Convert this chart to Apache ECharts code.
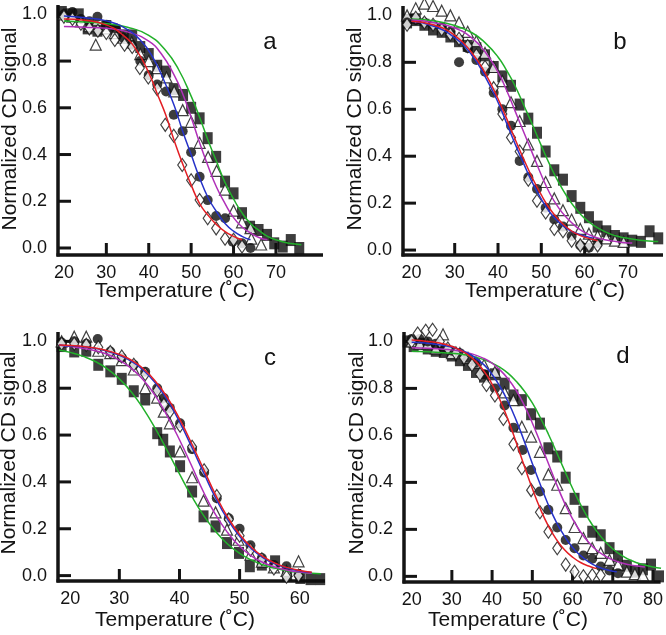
<!DOCTYPE html>
<html>
<head>
<meta charset="utf-8">
<script src="https://cdn.jsdelivr.net/npm/echarts@6/dist/echarts.min.js"></script>
<style>
  html, body { margin: 0; padding: 0; background: #fff; }
  #chart { width: 666px; height: 635px; }
</style>
</head>
<body>
<div id="chart"></div>
<script type="text/javascript">
// panel a
var aSquares = [[19.5,1.01],[21.5,1.0],[23.5,1.0],[25.6,0.94],[27.9,0.93],[30,0.95],[32.2,0.93],[34.1,0.91],[36.1,0.91],[38,0.86],[40,0.83],[42,0.78],[44.1,0.755],[45.9,0.68],[48.1,0.655],[50,0.6],[52,0.555],[53.9,0.47],[55.9,0.39],[58,0.284],[60,0.234],[62,0.149],[63.9,0.091],[65.9,0.077],[67.9,0.056],[69.6,0.02],[71.6,0.006],[73.5,0.034],[75.5,0.0]];
var aTriangles = [[20,1.0],[22,0.99],[24,0.97],[26,0.95],[27.5,0.87],[30,0.94],[32,0.92],[34,0.9],[36,0.88],[38,0.83],[40,0.8],[42,0.77],[44.2,0.73],[46,0.67],[48,0.59],[50,0.54],[52,0.45],[54,0.39],[56,0.33],[58,0.25],[60,0.16],[62,0.11],[64,0.085],[64.2,0.04],[66.5,0.015]];
var aCircles = [[20,1.0],[22,1.01],[24,0.98],[26,0.97],[27.9,0.99],[30,0.955],[32.2,0.94],[34,0.9],[36,0.87],[38,0.8],[40,0.74],[42,0.7],[44.1,0.67],[45.9,0.57],[48,0.5],[50,0.41],[52,0.305],[53.9,0.205],[55.9,0.137],[58,0.127],[59.8,0.027],[62,0.02],[64,0.0]];
var aDiamonds = [[20,0.99],[22,0.98],[24,0.96],[26,0.94],[28,0.93],[30,0.92],[32,0.89],[34.3,0.87],[36.1,0.86],[37.9,0.77],[39.9,0.73],[42,0.68],[43.9,0.527],[45.9,0.48],[47.9,0.355],[50,0.29],[52,0.205],[53.9,0.127],[55.9,0.084],[58,0.04],[60,0.035],[62,0.006]];
var aRed = [[20,0.98],[25,0.975],[30,0.955],[34,0.91],[37,0.85],[40,0.75],[42,0.66],[44,0.57],[46,0.46],[48,0.36],[50,0.27],[52,0.19],[54,0.14],[56,0.1],[58,0.07],[60,0.05],[62,0.035]];
var aBlue = [[20,0.993],[25,0.985],[30,0.972],[34,0.945],[38,0.89],[41,0.815],[44,0.7],[46,0.61],[48,0.5],[50,0.4],[52,0.3],[54,0.215],[56,0.155],[58,0.105],[60,0.072],[62,0.05],[64,0.035]];
var aMagenta = [[20,0.948],[25,0.945],[30,0.94],[35,0.925],[40,0.885],[43,0.83],[46,0.74],[48,0.66],[50,0.56],[52,0.45],[54,0.35],[56,0.26],[58,0.19],[60,0.13],[62,0.09],[64,0.065],[66,0.045],[68,0.035]];
var aGreen = [[20,0.972],[25,0.967],[30,0.96],[35,0.945],[40,0.91],[44,0.845],[47,0.765],[50,0.65],[52,0.56],[54,0.46],[56,0.37],[58,0.28],[60,0.21],[62,0.15],[64,0.105],[66,0.075],[68,0.05],[70,0.035],[72,0.025],[74,0.018],[76,0.014]];

// panel b
var bSquares = [[19,0.97],[21,0.98],[23,0.96],[25,0.94],[27,0.93],[29,0.91],[31,0.89],[33,0.87],[35,0.86],[37,0.83],[39,0.78],[41,0.74],[43,0.7],[45,0.62],[47,0.56],[49,0.5],[51,0.42],[53,0.34],[55,0.3],[57,0.23],[59,0.18],[61,0.14],[63,0.1],[65,0.08],[67,0.06],[69,0.05],[71,0.04],[73,0.035],[75,0.08],[77,0.05]];
var bTriangles = [[19,1.0],[21,1.03],[23,1.05],[25,1.04],[27,1.02],[29,1.0],[31,0.97],[33,0.93],[35,0.89],[37,0.84],[39,0.78],[41,0.72],[43,0.63],[45,0.55],[47,0.45],[49,0.38],[51,0.29],[53,0.22],[55,0.17],[57,0.13],[59,0.09],[61,0.07],[63,0.06],[65,0.05],[67,0.04],[69,0.035]];
var bCircles = [[19,0.97],[21,0.98],[23,0.97],[25,0.96],[27,0.95],[29,0.93],[31,0.8],[33,0.86],[35,0.81],[37,0.76],[39,0.67],[41,0.6],[43,0.53],[45,0.38],[47,0.31],[49,0.26],[51,0.18],[53,0.13],[55,0.1],[57,0.06],[59,0.02],[61,0.01],[63,0.03]];
var bDiamonds = [[19,0.96],[21,0.99],[23,0.97],[25,0.96],[27,0.94],[29,0.92],[31,0.9],[33,0.87],[35,0.83],[37,0.78],[39,0.69],[41,0.58],[43,0.48],[45,0.42],[47,0.3],[49,0.21],[51,0.16],[53,0.09],[55,0.08],[57,0.04],[59,0.02],[61,0.02],[63,0.02]];
var bRed = [[20,0.975],[25,0.96],[30,0.915],[34,0.84],[37,0.755],[40,0.645],[42,0.56],[44,0.47],[46,0.385],[48,0.305],[50,0.235],[52,0.175],[54,0.13],[56,0.095],[58,0.07],[60,0.055],[62,0.045],[63,0.04]];
var bBlue = [[20,0.975],[25,0.955],[30,0.905],[34,0.83],[37,0.74],[40,0.63],[42,0.54],[44,0.45],[46,0.365],[48,0.285],[50,0.217],[52,0.16],[54,0.12],[56,0.09],[58,0.072],[60,0.06],[62,0.05]];
var bMagenta = [[20,0.98],[25,0.97],[30,0.946],[34,0.903],[37,0.845],[40,0.758],[42,0.68],[44,0.59],[46,0.5],[48,0.41],[50,0.32],[52,0.24],[54,0.18],[56,0.135],[58,0.1],[60,0.075],[62,0.058],[64,0.047],[66,0.04],[68,0.034],[70,0.03],[71,0.03]];
var bGreen = [[20,0.985],[25,0.977],[30,0.957],[34,0.926],[37,0.884],[40,0.823],[42,0.765],[44,0.697],[46,0.615],[48,0.532],[50,0.445],[52,0.362],[54,0.288],[56,0.226],[58,0.175],[60,0.135],[62,0.106],[64,0.085],[66,0.068],[68,0.057],[70,0.05],[72,0.044],[74,0.04],[76,0.037],[77,0.036]];

// panel c
var cSquares = [[20.4,0.98],[22.5,0.957],[24.5,0.96],[26.5,0.9],[28.5,0.872],[30.4,0.84],[32.4,0.787],[34.3,0.752],[36.3,0.608],[37.3,0.58],[38.4,0.53],[40.1,0.467],[42.1,0.359],[44,0.253],[46,0.21],[47.9,0.139],[49.9,0.097],[51.7,0.04],[53.7,0.047],[55.9,0.061],[57.9,0.004],[60.1,-0.01],[61.8,-0.015],[63.4,-0.015]];
var cTriangles = [[20.4,1.0],[22.5,1.02],[24.5,1.02],[26.5,0.96],[28.5,0.95],[30.4,0.92],[32.4,0.88],[34.3,0.8],[36.3,0.76],[37.4,0.7],[38.4,0.65],[40.1,0.53],[42.1,0.42],[44,0.32],[46,0.27],[47.9,0.196],[49.8,0.153],[51.8,0.09],[53.7,0.06],[55.7,0.035],[57.8,0.02],[59.8,0.061]];
var cCircles = [[20.4,0.995],[22.5,1.0],[24.5,0.99],[26.4,1.01],[28.5,0.957],[30.4,0.93],[32.4,0.9],[34.3,0.87],[36.3,0.8],[37.4,0.758],[38.4,0.716],[40.1,0.65],[42.1,0.54],[44.1,0.44],[46.2,0.33],[48.2,0.245],[50,0.2],[51.8,0.13],[53.7,0.075],[55.7,0.045],[57.8,0.04],[59.8,0.004]];
var cDiamonds = [[20.4,0.99],[22.5,0.99],[24.5,0.985],[26.5,0.975],[28.5,0.955],[30.4,0.935],[32.4,0.9],[34.3,0.86],[36.3,0.79],[37.4,0.73],[38.4,0.7],[40.1,0.64],[42.1,0.55],[44.1,0.45],[46.2,0.34],[48.2,0.24],[50,0.17],[51.8,0.11],[53.7,0.07],[55.7,0.03],[57.8,-0.005],[59.8,0.0]];
var cRed = [[20,0.985],[22,0.982],[24,0.978],[26,0.972],[28,0.96],[30,0.944],[32,0.92],[34,0.883],[36,0.83],[38,0.76],[40,0.67],[42,0.565],[44,0.455],[46,0.345],[48,0.25],[50,0.176],[52,0.12],[54,0.08],[56,0.052],[58,0.034],[60,0.022],[62,0.014]];
var cBlue = [[20,0.985],[22,0.98],[24,0.977],[26,0.97],[28,0.958],[30,0.94],[32,0.915],[34,0.877],[36,0.822],[38,0.75],[40,0.657],[42,0.551],[44,0.44],[46,0.332],[48,0.24],[50,0.168],[52,0.114],[54,0.075],[56,0.049],[58,0.032],[60,0.02],[62,0.013]];
var cMagenta = [[20,0.983],[22,0.978],[24,0.97],[26,0.96],[28,0.945],[30,0.92],[32,0.885],[34,0.835],[36,0.767],[38,0.68],[40,0.58],[42,0.47],[44,0.357],[46,0.26],[48,0.184],[50,0.125],[52,0.083],[54,0.055],[56,0.036],[58,0.023],[60,0.015],[62,0.01]];
var cGreen = [[20,0.963],[22,0.952],[24,0.936],[26,0.914],[28,0.883],[30,0.84],[32,0.784],[34,0.712],[36,0.627],[38,0.532],[40,0.434],[42,0.34],[44,0.257],[46,0.189],[48,0.135],[50,0.095],[52,0.066],[54,0.045],[56,0.031],[58,0.02],[60,0.014],[62,0.01],[63.5,0.008]];

// panel d
var dSquares = [[19,1.0],[20.5,0.98],[22,0.99],[24,0.97],[26,0.96],[28,0.955],[30,0.94],[32,0.92],[34,0.9],[36,0.87],[38,0.85],[40.7,0.86],[43.1,0.82],[45.3,0.77],[47.4,0.75],[49.7,0.69],[51.9,0.65],[54,0.545],[56.2,0.51],[58.3,0.42],[60.5,0.33],[62.7,0.275],[64.9,0.19],[67,0.175],[69.2,0.12],[71.3,0.085],[73.5,0.045],[75.5,0.02],[77.5,0.03],[79.5,0.05],[81.5,0.0]];
var dTriangles = [[20,1.0],[22,0.99],[24,0.99],[26,0.97],[27.8,1.03],[30,0.95],[32,0.95],[34,0.93],[36,0.91],[38,0.9],[40.7,0.87],[43.1,0.783],[45.3,0.75],[47.4,0.637],[49.7,0.595],[51.9,0.53],[54,0.434],[56.2,0.39],[58.3,0.29],[60.5,0.21],[62.7,0.163],[64.9,0.12],[67,0.1],[69.2,0.07],[71.3,0.05],[73.5,0.02],[75.5,0.01],[77.5,0.005]];
var dCircles = [[20,1.01],[22,1.01],[24,1.0],[26,0.99],[28,0.97],[30,0.96],[32,0.95],[34,0.93],[36,0.91],[38,0.86],[40.7,0.8],[43.1,0.727],[45.3,0.633],[47.6,0.538],[49.7,0.453],[51.9,0.361],[54,0.283],[56.2,0.208],[58.3,0.155],[60.5,0.12],[62.7,0.089],[64.9,0.075],[67,0.042],[69.2,0.025],[71.3,0.013]];
var dDiamonds = [[20,1.0],[21.5,1.034],[23.5,1.045],[25.2,1.05],[27,1.0],[29,0.97],[31,0.95],[33,0.93],[35,0.9],[37,0.86],[38.6,0.814],[40.7,0.77],[42.8,0.67],[45.3,0.562],[47.4,0.46],[49.7,0.367],[51.9,0.273],[54,0.19],[56.2,0.12],[58.3,0.05],[60.5,0.02],[62.7,0.0],[64.9,0.005],[67,0.005]];
var dRed = [[20,1.006],[24,1.0],[28,0.989],[32,0.964],[35,0.93],[38,0.873],[40,0.818],[42,0.749],[44,0.665],[46,0.57],[48,0.47],[50,0.374],[52,0.287],[54,0.214],[56,0.157],[58,0.113],[60,0.082],[62,0.059],[64,0.044],[66,0.033]];
var dBlue = [[20,0.996],[24,0.992],[28,0.983],[32,0.965],[35,0.94],[38,0.9],[40,0.859],[42,0.807],[44,0.742],[46,0.664],[48,0.575],[50,0.48],[52,0.39],[54,0.304],[56,0.23],[58,0.171],[60,0.123],[62,0.088],[64,0.062],[66,0.043],[68,0.03],[70,0.022],[71,0.02]];
var dMagenta = [[20,0.973],[24,0.971],[28,0.967],[32,0.959],[35,0.947],[38,0.927],[40,0.907],[42,0.878],[44,0.84],[46,0.791],[48,0.728],[50,0.653],[52,0.569],[54,0.48],[56,0.393],[58,0.313],[60,0.245],[62,0.189],[64,0.145],[66,0.111],[68,0.088],[70,0.07],[72,0.058],[74,0.05],[76,0.044],[78,0.04]];
var dGreen = [[20,0.958],[24,0.956],[28,0.952],[32,0.946],[35,0.937],[38,0.922],[40,0.908],[42,0.889],[44,0.864],[46,0.83],[48,0.789],[50,0.738],[52,0.675],[54,0.605],[56,0.529],[58,0.451],[60,0.375],[62,0.305],[64,0.244],[66,0.192],[68,0.15],[70,0.117],[72,0.091],[74,0.072],[76,0.058],[78,0.048],[80,0.04],[82,0.035]];

var yTicks = [0, 0.2, 0.4, 0.6, 0.8, 1.0];
var xLabelsA = [20, 30, 40, 50, 60, 70];
var xLabelsB = [20, 30, 40, 50, 60, 70];
var xLabelsC = [20, 30, 40, 50, 60];
var xLabelsD = [20, 30, 40, 50, 60, 70, 80];
var panelLetters = ['a', 'b', 'c', 'd'];
var xName = 'Temperature (\u02DAC)';
var yName = 'Normalized CD signal';

var font = '"Liberation Sans", Arial, sans-serif';
var ink = '#141414';

var rects = [
    { left: 58, top: 5, width: 265, height: 250 },
    { left: 403, top: 6, width: 260, height: 249 },
    { left: 58, top: 332, width: 267, height: 249 },
    { left: 404, top: 332, width: 261, height: 250 }
];
var xRanges = [[18.6, 81.1], [18.06, 78.1], [19.8, 64.2], [18.1, 81.9]];
var yRanges = [[-0.03, 1.04], [-0.021, 1.04], [-0.023, 1.04], [-0.024, 1.04]];
var xLabelSets = [xLabelsA, xLabelsB, xLabelsC, xLabelsD];

var chart = echarts.init(document.getElementById('chart'));

function makeX(i) {
    var labels = xLabelSets[i];
    var ax = {
        type: 'value', gridIndex: i, min: xRanges[i][0], max: xRanges[i][1],
        axisLine: { show: false }, axisTick: { show: false }, splitLine: { show: false },
        axisLabel: { margin: 9, fontSize: 18, fontFamily: font, color: ink, customValues: labels }
    };
    if (i === 2) {
        // the "20" sits a bit right of its position in panel c
        ax.axisLabel.formatter = function (v) { return v === 20 ? '{p|20}' : String(v); };
        ax.axisLabel.rich = { p: { padding: [0, 0, 0, 22], fontSize: 18, fontFamily: font, color: ink } };
    }
    return ax;
}

function makeY(i) {
    return {
        type: 'value', gridIndex: i, min: yRanges[i][0], max: yRanges[i][1],
        axisLine: { show: false }, axisTick: { show: false }, splitLine: { show: false },
        axisLabel: { margin: 11, fontSize: 18, fontFamily: font, color: ink, customValues: yTicks,
            formatter: function (v) { return Number(v).toFixed(1); } }
    };
}

// heavy frame: both axis lines plus inward ticks, placed through the panel's scales
function frame(i) {
    var xMin = xRanges[i][0], xMax = xRanges[i][1];
    var yMin = yRanges[i][0], yMax = yRanges[i][1];
    var items = [['frame', 0]];
    xLabelSets[i].forEach(function (v) { if (v > 20) items.push(['x', v]); });
    yTicks.forEach(function (v) { items.push(['y', v]); });
    return {
        type: 'custom', xAxisIndex: i, yAxisIndex: i, clip: false, z: 1, silent: true,
        data: items.map(function (it, k) { return [k]; }),
        renderItem: function (params, api) {
            var it = items[params.dataIndex];
            var st = { stroke: ink, lineWidth: 3 };
            if (it[0] === 'frame') {
                var o = api.coord([xMin, yMin]);
                var xr = api.coord([xMax, yMin]);
                var yt = api.coord([xMin, yMax]);
                return { type: 'group', children: [
                    { type: 'line', shape: { x1: o[0] - 1.5, y1: o[1], x2: xr[0], y2: xr[1] }, style: { stroke: ink, lineWidth: 3.5 } },
                    { type: 'line', shape: { x1: o[0], y1: o[1] + 1.5, x2: yt[0], y2: yt[1] }, style: { stroke: ink, lineWidth: 3.5 } }
                ] };
            }
            if (it[0] === 'x') {
                var p = api.coord([it[1], yMin]);
                return { type: 'line', shape: { x1: p[0], y1: p[1], x2: p[0], y2: p[1] - 12 }, style: st };
            }
            var q = api.coord([xMin, it[1]]);
            return { type: 'line', shape: { x1: q[0], y1: q[1], x2: q[0] + 13, y2: q[1] }, style: st };
        }
    };
}

function dots(idx, data, kind) {
    var s = { type: 'scatter', xAxisIndex: idx, yAxisIndex: idx, data: data, clip: false, z: 2 };
    if (kind === 'square') {
        s.symbol = 'rect'; s.symbolSize = [10, 12];
        s.itemStyle = { color: '#0d0d0d' };
    } else if (kind === 'triangle') {
        s.symbol = 'triangle'; s.symbolSize = [11, 11];
        s.itemStyle = { color: '#fff', borderColor: '#111', borderWidth: 1.2 };
    } else if (kind === 'circle') {
        s.symbol = 'circle'; s.symbolSize = 10;
        s.itemStyle = { color: '#0d0d0d' };
    } else {
        s.symbol = 'diamond'; s.symbolSize = [9, 13];
        s.itemStyle = { color: '#fff', borderColor: '#111', borderWidth: 1.2 };
    }
    return s;
}

function curve(idx, data, color) {
    return { type: 'line', xAxisIndex: idx, yAxisIndex: idx, data: data, smooth: true,
        showSymbol: false, clip: false, z: 3,
        lineStyle: { color: color, width: 1.5 } };
}

function panelSeries(i, sq, tri, cir, dia, red, blue, mag, green) {
    return [
        frame(i),
        dots(i, sq, 'square'), dots(i, tri, 'triangle'),
        dots(i, cir, 'circle'), dots(i, dia, 'diamond'),
        curve(i, green, '#22b02a'), curve(i, mag, '#b02fb8'),
        curve(i, blue, '#2632c8'), curve(i, red, '#e31e24')
    ];
}

function label(text, x, y, size, rot) {
    return { type: 'text', x: x, y: y, rotation: rot || 0, silent: true,
        style: { text: text, fill: ink, font: size + 'px ' + font, align: 'center', verticalAlign: 'middle' } };
}

var option = {
    backgroundColor: '#fff',
    animation: false,
    grid: rects,
    xAxis: [makeX(0), makeX(1), makeX(2), makeX(3)],
    yAxis: [makeY(0), makeY(1), makeY(2), makeY(3)],
    graphic: [
        label(panelLetters[0], 270, 42, 24), label(panelLetters[1], 620, 42, 24),
        label(panelLetters[2], 270, 358, 24), label(panelLetters[3], 623, 356, 24),
        label(xName, 175, 291, 21), label(xName, 545, 291, 21),
        label(xName, 175, 620, 21), label(xName, 508, 620, 21),
        label(yName, 10, 129, 21, Math.PI / 2), label(yName, 355, 129, 21, Math.PI / 2),
        label(yName, 9, 453, 21, Math.PI / 2), label(yName, 357, 453, 21, Math.PI / 2)
    ],
    series: [].concat(
        panelSeries(0, aSquares, aTriangles, aCircles, aDiamonds, aRed, aBlue, aMagenta, aGreen),
        panelSeries(1, bSquares, bTriangles, bCircles, bDiamonds, bRed, bBlue, bMagenta, bGreen),
        panelSeries(2, cSquares, cTriangles, cCircles, cDiamonds, cRed, cBlue, cMagenta, cGreen),
        panelSeries(3, dSquares, dTriangles, dCircles, dDiamonds, dRed, dBlue, dMagenta, dGreen)
    )
};

chart.setOption(option);
</script>
</body>
</html>
